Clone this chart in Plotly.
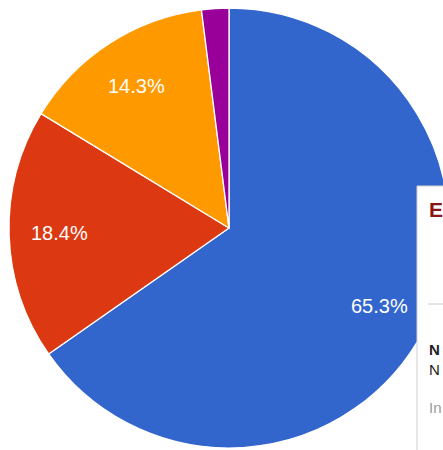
"""Pie chart with a clipped tooltip box on the right edge."""

import math
import plotly.graph_objects as go

# data
labels = ["Blue", "Red", "Orange", "Purple"]
values = [65.3, 18.4, 14.3, 2.0]
colors = ["#3366cc", "#dc3912", "#ff9900", "#990099"]
show_label = [True, True, True, False]

# tooltip text (cut off by the window edge)
tip_title = "E"
tip_lines = ["<b>N</b>", "N"]
tip_note = "In"

W, H = 460, 450
CX, CY, R = 229, 228, 220  # pie centre / radius in pixels
LABEL_R = 0.77


def px(x):
    return x / W


def py(y):
    return 1 - y / H


fig = go.Figure()
fig.add_trace(go.Pie(
    labels=labels, values=values, sort=False, direction="clockwise", rotation=0,
    marker=dict(colors=colors, line=dict(color="white", width=1.3)),
    textinfo="none",
    domain=dict(x=[px(CX - R), px(CX + R)], y=[py(CY + R), py(CY - R)]),
    showlegend=False, hoverinfo="none",
))

# percentage labels on the slice bisectors (google-charts style)
total = sum(values)
cum = 0
for v, show in zip(values, show_label):
    mid = 2 * math.pi * (cum + v / 2) / total
    cum += v
    if not show:
        continue
    lx = CX + LABEL_R * R * math.sin(mid)
    ly = CY - LABEL_R * R * math.cos(mid)
    fig.add_annotation(text=f"{100 * v / total:.1f}%", xref="paper", yref="paper",
                       x=px(lx), y=py(ly), xanchor="center", yanchor="middle", showarrow=False,
                       font=dict(family="Arial, Liberation Sans", size=20, color="white"))

# tooltip box
fig.add_shape(type="rect", xref="paper", yref="paper", x0=px(417), x1=1.05, y0=-0.05, y1=py(186),
              fillcolor="white", line=dict(color="#d0d0d0", width=1))
fig.add_shape(type="line", xref="paper", yref="paper", x0=px(428), x1=1.05, y0=py(304), y1=py(304),
              line=dict(color="#cccccc", width=1))

fig.add_annotation(text="<b>" + tip_title + "</b>", xref="paper", yref="paper", x=px(427), y=py(209),
                   xanchor="left", yanchor="middle", showarrow=False,
                   font=dict(family="Arial, Liberation Sans", size=21, color="#8b1414"))
fig.add_annotation(text="<br>".join(tip_lines), xref="paper", yref="paper", x=px(427), y=py(359),
                   xanchor="left", yanchor="middle", align="left", showarrow=False,
                   font=dict(family="Arial, Liberation Sans", size=15, color="#222222"))
fig.add_annotation(text=tip_note, xref="paper", yref="paper", x=px(427), y=py(407),
                   xanchor="left", yanchor="middle", showarrow=False,
                   font=dict(family="Arial, Liberation Sans", size=15, color="#999999"))

fig.update_layout(width=W, height=H, margin=dict(l=0, r=0, t=0, b=0),
                  paper_bgcolor="white", plot_bgcolor="white")

fig.write_html("out.html", config={"displayModeBar": False},
               post_script="document.body.style.margin='0';document.body.style.overflow='hidden';"
                           "document.documentElement.style.overflow='hidden';")
